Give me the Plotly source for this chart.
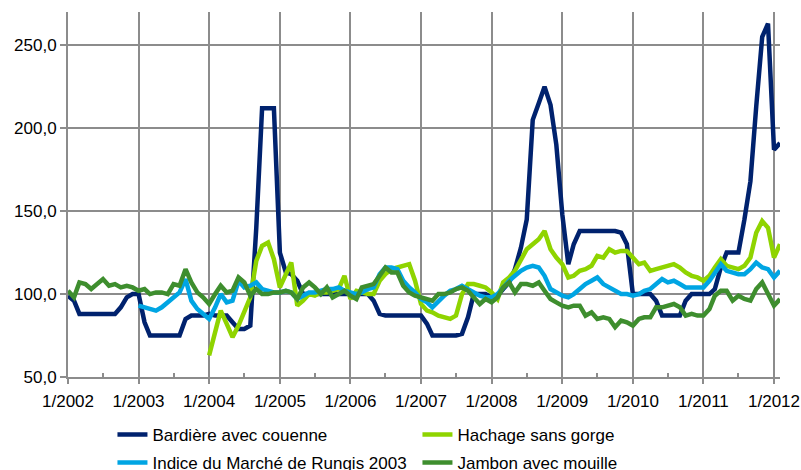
import pandas as pd
import plotly.graph_objects as go

# ---------------- data (monthly index values, 1/2002 .. 2/2012) ----------------
months = pd.date_range("2002-01-01", "2012-02-01", freq="MS")

names = ["Bardière avec couenne", "Hachage sans gorge",
         "Indice du Marché de Rungis 2003", "Jambon avec mouille"]

bardiere = [
    99, 96, 88, 88, 88, 88, 88, 88, 88, 92, 98, 100,
    100, 83, 75, 75, 75, 75, 75, 75, 85, 87, 87, 87,
    88, 87, 87, 87, 83, 79, 79, 81, 140, 212, 212, 212,
    125, 113, 112, 108, 100, 100, 100, 100, 100, 100, 100, 100,
    100, 100, 100, 100, 96, 88, 87, 87, 87, 87, 87, 87,
    87, 82, 75, 75, 75, 75, 75, 76, 86, 100, 100, 100,
    98, 99, 103, 107, 115, 128, 145, 205, 215, 225, 214, 190,
    148, 118, 130, 138, 138, 138, 138, 138, 138, 138, 137, 130,
    100, 100, 100, 100, 96, 87, 87, 87, 87, 96, 100, 100,
    100, 100, 103, 116, 125, 125, 125, 145, 168, 213, 255, 263,
    187, 191,
]

hachage = [None] * 24 + [
    63, 76, 90, 82, 74, 81, 89, 98, 120, 129, 131, 121,
    104, 112, 119, 93, 96, 100, 99, 101, 101, 102, 103, 111,
    97, 102, 101, 100, 100, 108, 112, 115, 116, 117, 118, 108,
    94, 90, 89, 87, 86, 85, 87, 100, 106, 106, 105, 104,
    101, 97, 107, 110, 114, 121, 127, 130, 133, 138, 127, 122,
    118, 110, 111, 114, 115, 117, 123, 122, 127, 125, 126, 126,
    122, 118, 119, 114, 115, 116, 117, 118, 116, 113, 111, 110,
    108, 111, 116, 121, 117, 116, 115, 117, 122, 137, 144, 140,
    122, 130,
]

rungis = [None] * 12 + [
    93, 92, 91, 90, 92, 95, 98, 101, 109, 96, 91, 88,
    85, 92, 100, 95, 96, 108, 104, 105, 107, 103, 102, 101,
    101, 102, 101, 97, 99, 101, 101, 102, 103, 103, 104, 102,
    101, 100, 101, 103, 104, 112, 116, 116, 115, 108, 104, 101,
    97, 95, 92, 96, 99, 102, 103, 105, 103, 101, 99, 98,
    98, 100, 104, 108, 111, 114, 116, 117, 116, 111, 103, 101,
    99, 98, 100, 103, 106, 108, 110, 106, 104, 102, 100, 100,
    99, 100, 102, 103, 106, 109, 107, 108, 106, 104, 104, 104,
    104, 108, 113, 118, 114, 113, 112, 112, 115, 119, 116, 115,
    110, 114,
]

jambon = [
    102, 98, 107, 106, 103, 106, 109, 105, 106, 104, 105, 104,
    102, 103, 100, 101, 101, 100, 106, 105, 115, 107, 101, 98,
    94, 100, 105, 101, 102, 110, 107, 99, 103, 100, 100, 101,
    101, 102, 101, 97, 104, 107, 104, 100, 104, 98, 100, 102,
    99, 97, 104, 105, 106, 111, 116, 113, 113, 105, 101, 99,
    98, 97, 96, 100, 100, 101, 103, 104, 102, 98, 94, 97,
    95, 98, 104, 107, 101, 106, 106, 105, 107, 102, 97, 95,
    93, 92, 93, 93, 87, 89, 85, 86, 85, 80, 84, 83,
    81, 85, 86, 86, 92, 92, 93, 94, 92, 87, 88, 87,
    87, 91, 99, 102, 102, 96, 99, 97, 96, 103, 107, 100,
    93, 97,
]

series = [bardiere, hachage, rungis, jambon]
colors = ["#00226E", "#8FD400", "#00A5E3", "#3E8E2E"]
legend_ids = ["legend", "legend", "legend2", "legend2"]

# ---------------- figure ----------------
fig = go.Figure()
for name, vals, col, lg in zip(names, series, colors, legend_ids):
    fig.add_trace(go.Scatter(
        x=months, y=vals, name=name, mode="lines",
        line=dict(color=col, width=4.5),
        legend=lg, hoverinfo="skip",
    ))

grid = "#8C8C8C"
font_family = "Liberation Sans, Arial, sans-serif"

W, H = 801, 470

legend_common = dict(
    orientation="h", xref="container", yref="container",
    x=0.1404, xanchor="left", yanchor="middle",
    entrywidth=260, entrywidthmode="pixels",
    font=dict(size=17, color="black"), bgcolor="rgba(0,0,0,0)",
    borderwidth=0,
)

fig.update_layout(
    width=W, height=H,
    margin=dict(l=68, r=20.8, t=12, b=92.7, pad=0, autoexpand=False),
    paper_bgcolor="white", plot_bgcolor="white",
    separators=", ",
    font=dict(family=font_family, size=17, color="black"),
    xaxis=dict(
        type="date",
        range=["2002-01-01", "2012-02-01"],
        tick0="2002-01-01", dtick="M12", tickformat="%-m/%Y",
        showgrid=True, gridcolor=grid, gridwidth=2,
        showline=True, linecolor=grid, linewidth=2,
        ticks="outside", ticklen=5, tickwidth=2, tickcolor=grid,
        minor=dict(tick0="2002-07-01", dtick="M12", ticks="inside",
                   ticklen=4, tickwidth=2, tickcolor=grid, showgrid=False),
        tickfont=dict(size=17, color="black"), ticklabelstandoff=3,
        zeroline=False, fixedrange=True, automargin=False,
    ),
    yaxis=dict(
        range=[50, 270], tick0=50, dtick=50, tickformat=".1f",
        showgrid=True, gridcolor=grid, gridwidth=2,
        showline=True, linecolor=grid, linewidth=2,
        ticks="outside", ticklen=6, tickwidth=2, tickcolor=grid,
        tickfont=dict(size=17, color="black"),
        zeroline=False, fixedrange=True, automargin=False,
    ),
    legend=dict(legend_common, y=0.0745),
    legend2=dict(legend_common, y=0.0149),
    showlegend=True,
)

# page body without its default 8px margin so the 801x470 figure fills the window
fig.write_html("out.html", config={"displayModeBar": False},
               post_script="document.body.style.margin='0';")
